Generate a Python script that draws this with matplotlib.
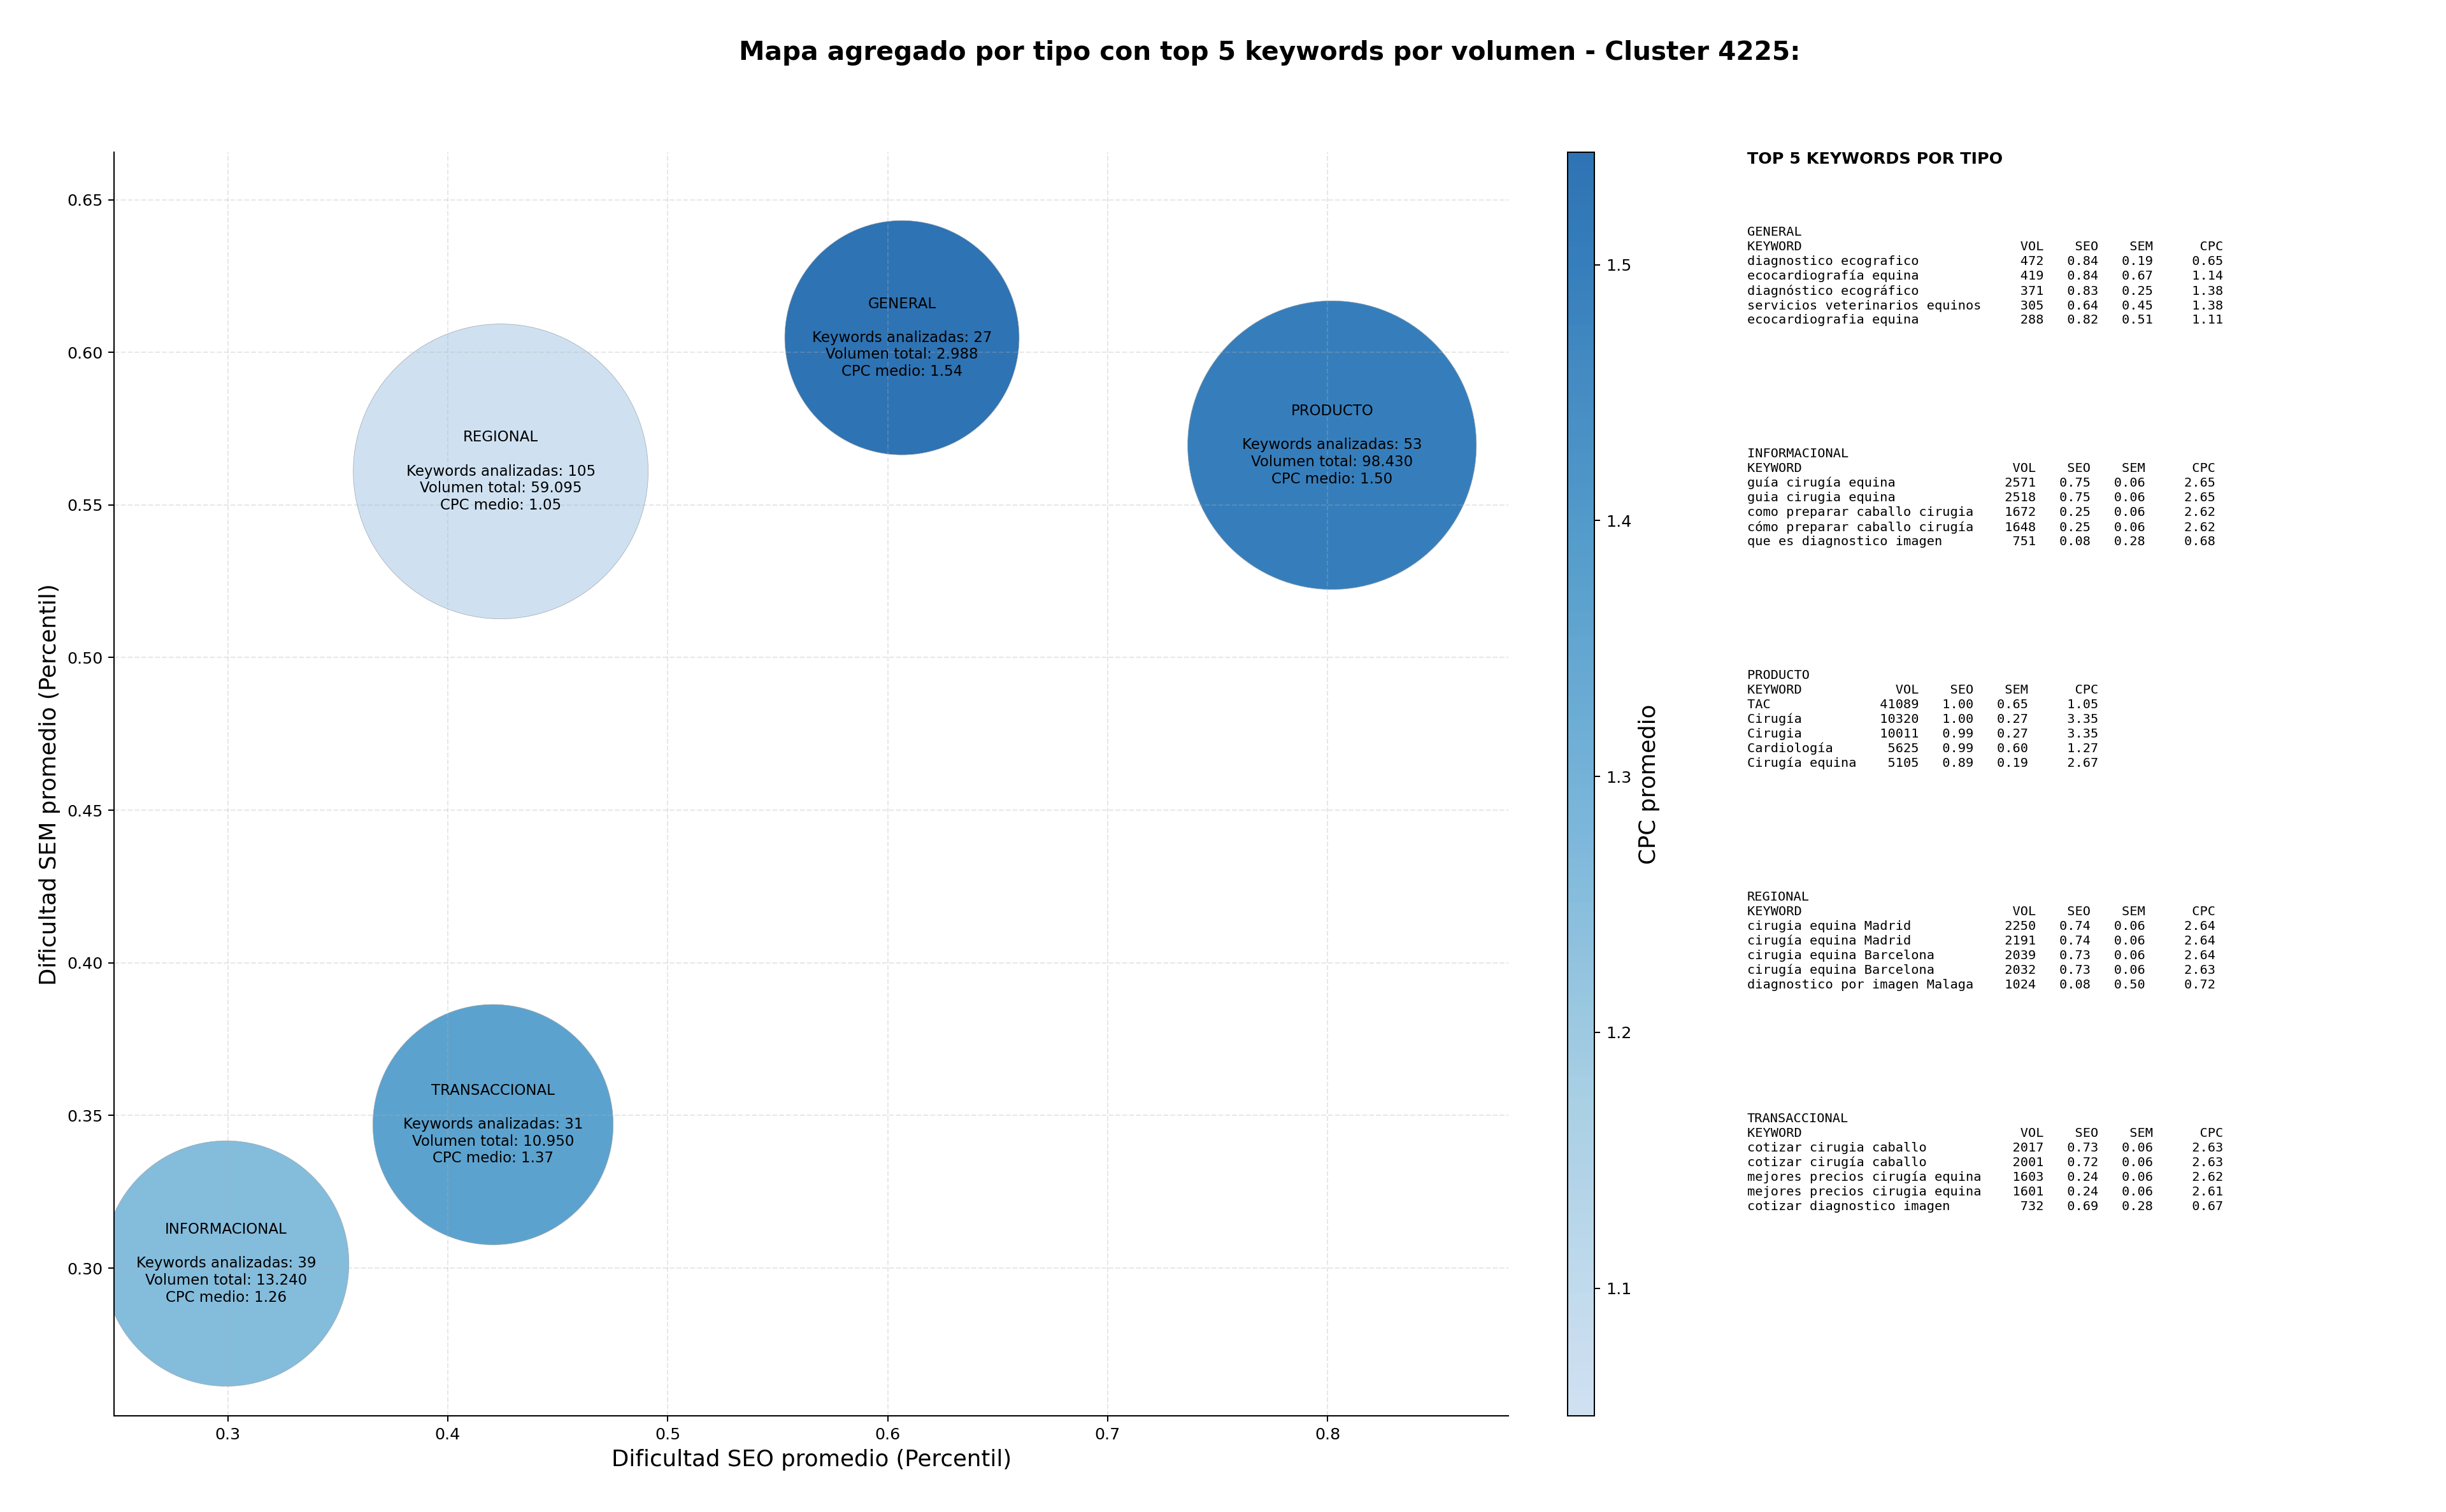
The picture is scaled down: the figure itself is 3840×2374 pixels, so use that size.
import matplotlib
matplotlib.use("Agg")
import matplotlib.pyplot as plt
import numpy as np
from matplotlib.colors import LinearSegmentedColormap

# datos agregados por tipo
tipos = ["GENERAL", "INFORMACIONAL", "PRODUCTO", "REGIONAL", "TRANSACCIONAL"]
seo_medio = [0.6065, 0.2993, 0.8020, 0.4241, 0.4206]
sem_medio = [0.6048, 0.3015, 0.5696, 0.5610, 0.3470]
n_keywords = [27, 39, 53, 105, 31]
volumen_total = [2988, 13240, 98430, 59095, 10950]
cpc_medio = [1.544, 1.26, 1.50, 1.05, 1.37]

# top 5 keywords por tipo: (keyword, vol, seo, sem, cpc)
top_general = [
    ("diagnostico ecografico", 472, 0.84, 0.19, 0.65),
    ("ecocardiografía equina", 419, 0.84, 0.67, 1.14),
    ("diagnóstico ecográfico", 371, 0.83, 0.25, 1.38),
    ("servicios veterinarios equinos", 305, 0.64, 0.45, 1.38),
    ("ecocardiografia equina", 288, 0.82, 0.51, 1.11),
]
top_informacional = [
    ("guía cirugía equina", 2571, 0.75, 0.06, 2.65),
    ("guia cirugia equina", 2518, 0.75, 0.06, 2.65),
    ("como preparar caballo cirugia", 1672, 0.25, 0.06, 2.62),
    ("cómo preparar caballo cirugía", 1648, 0.25, 0.06, 2.62),
    ("que es diagnostico imagen", 751, 0.08, 0.28, 0.68),
]
top_producto = [
    ("TAC", 41089, 1.00, 0.65, 1.05),
    ("Cirugía", 10320, 1.00, 0.27, 3.35),
    ("Cirugia", 10011, 0.99, 0.27, 3.35),
    ("Cardiología", 5625, 0.99, 0.60, 1.27),
    ("Cirugía equina", 5105, 0.89, 0.19, 2.67),
]
top_regional = [
    ("cirugia equina Madrid", 2250, 0.74, 0.06, 2.64),
    ("cirugía equina Madrid", 2191, 0.74, 0.06, 2.64),
    ("cirugia equina Barcelona", 2039, 0.73, 0.06, 2.64),
    ("cirugía equina Barcelona", 2032, 0.73, 0.06, 2.63),
    ("diagnostico por imagen Malaga", 1024, 0.08, 0.50, 0.72),
]
top_transaccional = [
    ("cotizar cirugia caballo", 2017, 0.73, 0.06, 2.63),
    ("cotizar cirugía caballo", 2001, 0.72, 0.06, 2.63),
    ("mejores precios cirugía equina", 1603, 0.24, 0.06, 2.62),
    ("mejores precios cirugia equina", 1601, 0.24, 0.06, 2.61),
    ("cotizar diagnostico imagen", 732, 0.69, 0.28, 0.67),
]
tops = [top_general, top_informacional, top_producto, top_regional, top_transaccional]

W, H = 3840, 2374
DPI = W / 21
fig = plt.figure(figsize=(21, H / DPI), dpi=DPI)

ax = fig.add_axes([0.0467, 0.0634, 0.5700, 0.8360])
cax = fig.add_axes([0.6409, 0.0634, 0.0110, 0.8360])

# Blues recortado
cmap = LinearSegmentedColormap.from_list("blues_cut", plt.cm.Blues(np.linspace(0.23, 0.8, 256)))

vol = np.array(volumen_total, dtype=float)
cnt = np.array(n_keywords, dtype=float)
sizes = 18200 + 8700 * vol / vol.max() + 9800 * cnt / cnt.max()  # tamaño de burbuja

sc = ax.scatter(seo_medio, sem_medio, s=sizes, c=cpc_medio, cmap=cmap,
                vmin=min(cpc_medio), vmax=max(cpc_medio),
                alpha=0.9, edgecolors="#9aa3ab", linewidths=0.3)

for i, t in enumerate(tipos):
    vol_txt = f"{volumen_total[i]:,}".replace(",", ".")
    label = f"{t}\n\nKeywords analizadas: {n_keywords[i]}\nVolumen total: {vol_txt}\nCPC medio: {cpc_medio[i]:.2f}"
    ax.text(seo_medio[i], sem_medio[i], label, ha="center", va="center",
            fontsize=9, multialignment="center")

ax.set_xlim(0.2484, 0.8822)
ax.set_ylim(0.2515, 0.6656)
ax.set_xlabel("Dificultad SEO promedio (Percentil)", fontsize=14)
ax.set_ylabel("Dificultad SEM promedio (Percentil)", fontsize=14)
ax.grid(True, linestyle="--", alpha=0.3)
ax.spines["top"].set_visible(False)
ax.spines["right"].set_visible(False)
ax.tick_params(labelsize=10)

cbar = fig.colorbar(sc, cax=cax)
cbar.set_label("CPC promedio", fontsize=14)
cbar.ax.tick_params(labelsize=10)

fig.suptitle("Mapa agregado por tipo con top 5 keywords por volumen - Cluster 4225:",
             x=0.519, y=0.965, va="center", fontsize=16, fontweight="bold")

# tabla de top keywords
fig.text(0.7143, 1 - 250 / H, "TOP 5 KEYWORDS POR TIPO", fontsize=10,
         fontweight="bold", va="center", ha="left")

y0 = 1 - 355 / H
step = 348 / H
for i, t in enumerate(tipos):
    rows = tops[i]
    L = max(len(r[0]) for r in rows)
    lines = [t, f"{'KEYWORD':<{L}}{'VOL':>8}{'SEO':>7}{'SEM':>7}{'CPC':>9}"]
    for kw, v, seo, sem, cpc in rows:
        lines.append(f"{kw:<{L}}{v:>8}{seo:>7.2f}{sem:>7.2f}{cpc:>9.2f}")
    fig.text(0.7143, y0 - i * step, "\n".join(lines), fontsize=8,
             family="DejaVu Sans Mono", va="top", ha="left", linespacing=1.25)

fig.savefig("out.png", dpi=DPI)
